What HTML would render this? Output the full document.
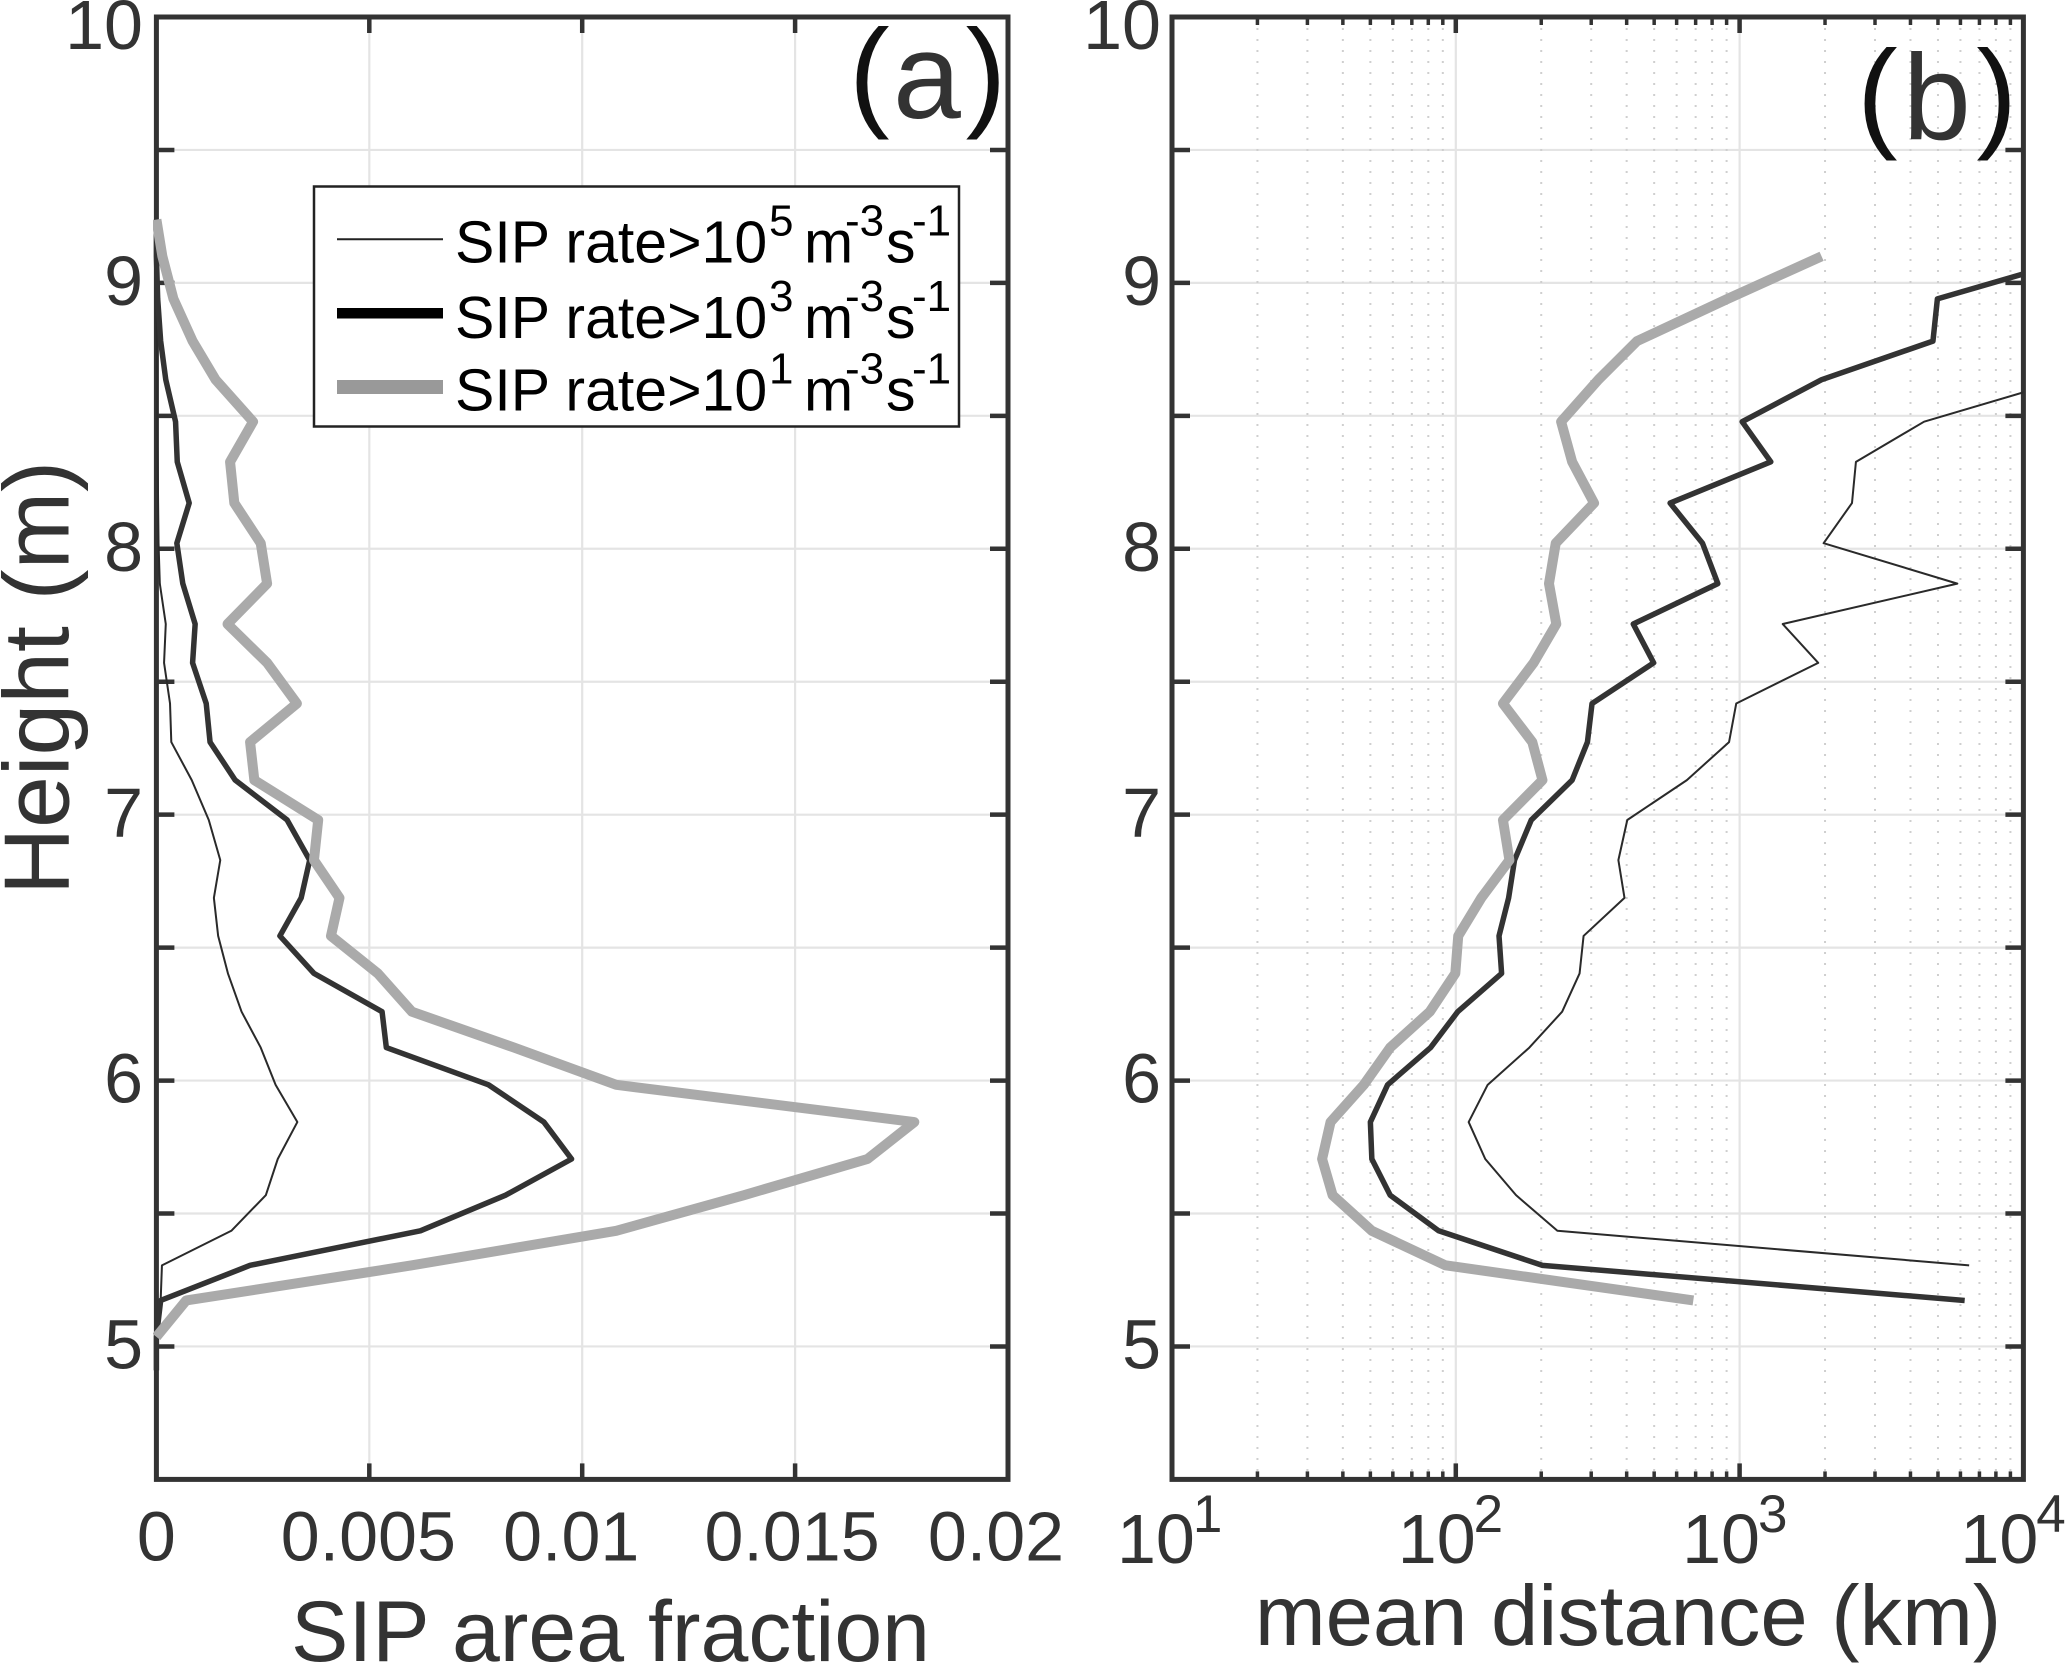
<!DOCTYPE html>
<html lang="en">
<head>
<meta charset="utf-8">
<title>SIP area fraction and mean distance profiles</title>
<style>
html,body{margin:0;padding:0;background:#fff;}
svg{display:block;font-family:"Liberation Sans",Arial,sans-serif;}
</style>
</head>
<body>
<svg id="chart" xmlns="http://www.w3.org/2000/svg" width="2067" height="1663" viewBox="0 0 2067 1663">
<defs>
<clipPath id="clip-a"><rect x="153" y="17" width="855" height="1462"/></clipPath>
<clipPath id="clip-b"><rect x="1172" y="17" width="851.4" height="1462"/></clipPath>
</defs>
<g id="panel-a"></g>
<g id="panel-b"></g>
<text transform="translate(68.5,678) rotate(-90)" text-anchor="middle" font-size="93" fill="#333">Height (m)</text>
<text x="610.5" y="1661" text-anchor="middle" font-size="86" fill="#333">SIP area fraction</text>
<text x="1628" y="1645" text-anchor="middle" font-size="85" fill="#333">mean distance (km)</text>
<text font-size="122" fill="#333"><tspan x="849" y="114" fill="#111">(</tspan><tspan x="893" y="118">a</tspan><tspan x="965.6" y="114" fill="#111">)</tspan></text>
<text font-size="122" fill="#333"><tspan x="1857" y="135" fill="#111">(</tspan><tspan x="1903" y="139">b</tspan><tspan x="1976.4" y="135" fill="#111">)</tspan></text>
<g>
<rect x="314" y="186.5" width="645" height="240" fill="#fff" stroke="#222" stroke-width="2.5"/>
<line x1="337" x2="443" y1="239.3" y2="239.3" stroke="#222" stroke-width="2"/>
<line x1="337" x2="443" y1="313.3" y2="313.3" stroke="#000" stroke-width="10.5"/>
<line x1="337" x2="443" y1="387" y2="387" stroke="#999" stroke-width="14"/>
<text x="455" y="262.6" font-size="59" fill="#000">SIP rate&gt;10<tspan font-size="44" x="769" y="235.6">5</tspan><tspan x="804" y="262.6">m</tspan><tspan font-size="44" x="845" y="235.6">-3</tspan><tspan x="886" y="262.6">s</tspan><tspan font-size="44" x="912" y="235.6">-1</tspan></text>
<text x="455" y="338" font-size="59" fill="#000">SIP rate&gt;10<tspan font-size="44" x="769" y="311">3</tspan><tspan x="804" y="338">m</tspan><tspan font-size="44" x="845" y="311">-3</tspan><tspan x="886" y="338">s</tspan><tspan font-size="44" x="912" y="311">-1</tspan></text>
<text x="455" y="410.6" font-size="59" fill="#000">SIP rate&gt;10<tspan font-size="44" x="769" y="383.6">1</tspan><tspan x="804" y="410.6">m</tspan><tspan font-size="44" x="845" y="383.6">-3</tspan><tspan x="886" y="410.6">s</tspan><tspan font-size="44" x="912" y="383.6">-1</tspan></text>
</g>
</svg>
<script>
const heights = [4.91,5.036,5.173,5.305,5.435,5.569,5.705,5.844,5.984,6.124,6.259,6.403,6.544,6.687,6.829,6.98,7.13,7.273,7.418,7.571,7.717,7.869,8.021,8.172,8.327,8.478,8.636,8.781,8.94,9.10,9.238];
const fractionRate1e5 = [0,0,.0001,.00013,.00176,.00257,.00285,.00331,.0028,.00245,.002,.00168,.00145,.00135,.0015,.00123,.00083,.00035,.00032,.00018,.00022,.00008,.00005,.00004,.00003,.00002,.00002,.00001,0,0,0];
const fractionRate1e3 = [0,0,.0001,.0022,.0062,.0082,.00975,.0091,.0078,.0054,.0053,.0037,.0029,.0034,.0036,.00307,.00185,.00126,.00117,.00085,.00091,.00062,.00048,.00077,.00049,.00045,.00022,.0001,.00003,0,0];
const fractionRate1e1 = [null,0,.0007,.006,.0108,.0138,.0167,.0178,.0108,.0084,.006,.0052,.0041,.0043,.0037,.0038,.0023,.0022,.0033,.0026,.00167,.0026,.00245,.00183,.00173,.00227,.00139,.00085,.0004,.00014,0];
const distanceRate1e5 = [null,null,null,6440,228,163,127,111,129.5,181.6,237,273,282,393,374,402,652,918,973,1892,1419,5850,1977,2489,2570,4467,14150,null,null,null,null];
const distanceRate1e3 = [null,null,6210,202,87,58.7,50.6,50,57.5,81.5,101.6,145,142,153.5,161,184.5,257,291,302,498,422,838,740,569,1288,1021,1945,4800,4977,16400,null];
const distanceRate1e1 = [null,null,687,92,50.6,36.8,33.8,36.2,47.4,58.7,81,99.6,102,123,154.5,146.6,202,186,146.6,188,226,213,225,307,257,235,318,435,908,1945,null];
const heightTicks = [4.5,5,5.5,6,6.5,7,7.5,8,8.5,9,9.5,10];
const heightTickLabels = ["5","6","7","8","9","10"];
const fractionTicks = [0,0.005,0.01,0.015,0.02];
const fractionTickLabels = ["0","0.005","0.01","0.015","0.02"];
const distanceDecades = [1,2,3,4];

const NS = "http://www.w3.org/2000/svg";
const plotTop = 17, plotBottom = 1479.4;
const aLeft = 156.4, aRight = 1008;
const bLeft = 1172, bRight = 2023.4;
const INK = "#333", GRID = "#e4e4e4";
const aLabelNudge = [0,-1,-11,-3,-12];
const bLabelNudge = [-55,-58,-57.5,-63];

function yAxis(h){ return plotTop + (10 - h) * (plotBottom - plotTop) / 5.5; }
function xAxisA(v){ return aLeft + v / 0.02 * (aRight - aLeft); }
function xAxisB(d){ return bLeft + (Math.log10(d) - 1) / 3 * (bRight - bLeft); }

function make(tag, attrs, parent){
  const e = document.createElementNS(NS, tag);
  for (const k in attrs) e.setAttribute(k, attrs[k]);
  parent.appendChild(e);
  return e;
}
function seriesPath(vals, xf){
  let d = "", pen = false;
  for (let i = 0; i < vals.length; i++){
    if (vals[i] === null || vals[i] === undefined){ pen = false; continue; }
    d += (pen ? "L" : "M") + xf(vals[i]).toFixed(2) + " " + yAxis(heights[i]).toFixed(2);
    pen = true;
  }
  return d;
}
function drawSeries(g, vals, xf, color, width, clip, name){
  const p = make("path", {d: seriesPath(vals, xf), fill: "none", stroke: color, "stroke-width": width, "stroke-linejoin": "round", "clip-path": "url(#" + clip + ")"}, g);
  
  
}
function hGrid(g, left, right){
  heightTicks.slice(1, -1).forEach(function(h){
    const l = make("line", {x1: left, x2: right, y1: yAxis(h), y2: yAxis(h), stroke: GRID, "stroke-width": 2.2}, g);
    
    
  });
}
function yTicks(g, left, right){
  heightTicks.slice(1, -1).forEach(function(h){
    const a = make("line", {x1: left, x2: left + 18, y1: yAxis(h), y2: yAxis(h), stroke: INK, "stroke-width": 4.5}, g);
    
    
    const b = make("line", {x1: right - 18, x2: right, y1: yAxis(h), y2: yAxis(h), stroke: INK, "stroke-width": 4.5}, g);
    
    
  });
}
function yLabels(g, anchorX){
  heightTickLabels.forEach(function(s){
    const v = Number(s);
    const base = v === 10 ? 49 : yAxis(v) + 22;
    const t = make("text", {x: anchorX, y: base, "text-anchor": "end", "font-size": 70, fill: INK}, g);
    t.textContent = s;
    
    
  });
}
function frame(g, left, right){
  const r = make("rect", {x: left, y: plotTop, width: right - left, height: plotBottom - plotTop, fill: "none", stroke: INK, "stroke-width": 5}, g);
  
  
}

/* panel (a) */
const ga = document.getElementById("panel-a");
hGrid(ga, aLeft, aRight);
fractionTicks.slice(1, -1).forEach(function(v){
  const x = xAxisA(v);
  const l = make("line", {x1: x, x2: x, y1: plotTop, y2: plotBottom, stroke: GRID, "stroke-width": 2.2}, ga);
  
  
  const t1 = make("line", {x1: x, x2: x, y1: plotTop, y2: plotTop + 16, stroke: INK, "stroke-width": 4.5}, ga);
  
  
  const t2 = make("line", {x1: x, x2: x, y1: plotBottom - 16, y2: plotBottom, stroke: INK, "stroke-width": 4.5}, ga);
  
  
});
yTicks(ga, aLeft, aRight);
yLabels(ga, 143);
fractionTicks.forEach(function(v, i){
  const t = make("text", {x: xAxisA(v) + aLabelNudge[i], y: 1560.5, "text-anchor": "middle", "font-size": 70, fill: INK}, ga);
  t.textContent = fractionTickLabels[i];
  
  
});
frame(ga, aLeft, aRight);
drawSeries(ga, fractionRate1e5, xAxisA, "#2a2a2a", 2, "clip-a", "series-fraction-rate-1e5");
drawSeries(ga, fractionRate1e3, xAxisA, "#333", 5.5, "clip-a", "series-fraction-rate-1e3");
drawSeries(ga, fractionRate1e1, xAxisA, "#aaa", 10, "clip-a", "series-fraction-rate-1e1");

/* panel (b) */
const gb = document.getElementById("panel-b");
hGrid(gb, bLeft, bRight);
distanceDecades.slice(0, -1).forEach(function(dec){
  for (let m = 2; m <= 9; m++){
    const x = xAxisB(m * Math.pow(10, dec));
    const l = make("line", {x1: x, x2: x, y1: plotTop, y2: plotBottom, stroke: "#cfcfcf", "stroke-width": 2, "stroke-dasharray": "2 9"}, gb);
    
    
    const t1 = make("line", {x1: x, x2: x, y1: plotTop, y2: plotTop + 8, stroke: INK, "stroke-width": 3.5}, gb);
    
    
    const t2 = make("line", {x1: x, x2: x, y1: plotBottom - 8, y2: plotBottom, stroke: INK, "stroke-width": 3.5}, gb);
    
    
  }
});
distanceDecades.forEach(function(dec, i){
  const x = xAxisB(Math.pow(10, dec));
  if (dec > 1 && dec < 4){
    const l = make("line", {x1: x, x2: x, y1: plotTop, y2: plotBottom, stroke: GRID, "stroke-width": 2.2}, gb);
    
    
    const t1 = make("line", {x1: x, x2: x, y1: plotTop, y2: plotTop + 16, stroke: INK, "stroke-width": 4.5}, gb);
    
    
    const t2 = make("line", {x1: x, x2: x, y1: plotBottom - 16, y2: plotBottom, stroke: INK, "stroke-width": 4.5}, gb);
    
    
  }
  const t = make("text", {x: x + bLabelNudge[i], y: 1563, "font-size": 70, fill: INK}, gb);
  
  
  t.appendChild(document.createTextNode("10"));
  const sup = make("tspan", {"font-size": 53, dy: -31, dx: -2}, t);
  sup.textContent = String(dec);
});
yTicks(gb, bLeft, bRight);
yLabels(gb, 1161);
frame(gb, bLeft, bRight);
drawSeries(gb, distanceRate1e5, xAxisB, "#2a2a2a", 2, "clip-b", "series-distance-rate-1e5");
drawSeries(gb, distanceRate1e3, xAxisB, "#333", 5.5, "clip-b", "series-distance-rate-1e3");
drawSeries(gb, distanceRate1e1, xAxisB, "#aaa", 10, "clip-b", "series-distance-rate-1e1");
</script>
</body>
</html>
